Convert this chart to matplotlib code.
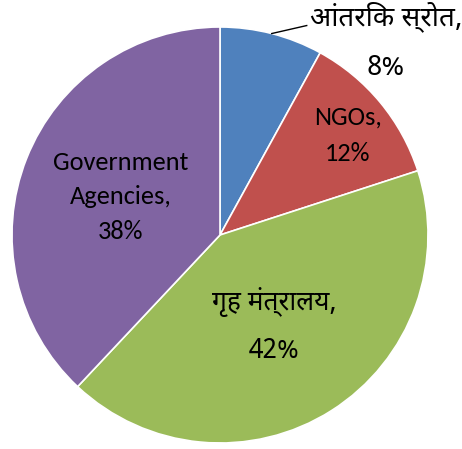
import numpy as np
import matplotlib
matplotlib.use('Agg')
import matplotlib.pyplot as plt

# data
sources = ['आंतरिक स्रोत', 'NGOs', 'गृह मंत्रालय', 'Government\nAgencies']
shares = [8, 12, 42, 38]
colors = ['#4F81BD', '#C0504D', '#9BBB59', '#8064A2']

latin = ['Carlito', 'Lato', 'DejaVu Sans']
hindi = ['Noto Sans Devanagari', 'Carlito', 'DejaVu Sans']

fig = plt.figure(figsize=(4.62, 4.49), dpi=100)
ax = fig.add_axes([0, 0, 1, 1])

cx, cy, R = 220, 214, 208
wedges, _ = ax.pie(shares, colors=colors, startangle=90, counterclock=False,
                   center=(cx, cy), radius=R, frame=True,
                   wedgeprops={'edgecolor': 'white', 'linewidth': 1.2})
ax.set_xlim(0, 462)
ax.set_ylim(0, 449)
ax.set_aspect('equal')
ax.axis('off')

mids = [np.deg2rad((w.theta1 + w.theta2) / 2) for w in wedges]


def put(frac, ang, text, fam, size, ls):
    a = np.deg2rad(ang)
    x = cx + frac * R * np.cos(a)
    y = cy + frac * R * np.sin(a)
    ax.text(x, y, text, ha='center', va='center', fontsize=size,
            family=fam, linespacing=ls, color='black')


put(0.78, 38, f'{sources[1]},\n{shares[1]}%', latin, 19, 1.7)
put(0.51, -59, f'{sources[2]},\n{shares[2]}%', hindi, 19, 1.95)
put(0.51, 159, f'{sources[3]},\n{shares[3]}%', latin, 19, 1.6)

# outside label with leader line for the small slice
a = mids[0]
x0, y0 = cx + R * np.cos(a), cy + R * np.sin(a)
ax.plot([x0, x0 + 35], [y0, y0 + 8], color='black', lw=1)
ax.text(386, 407.5, f'{sources[0]},\n{shares[0]}%', ha='center', va='center',
        fontsize=20, family=hindi, linespacing=2.05, color='black')

fig.savefig('out.png', dpi=100)
